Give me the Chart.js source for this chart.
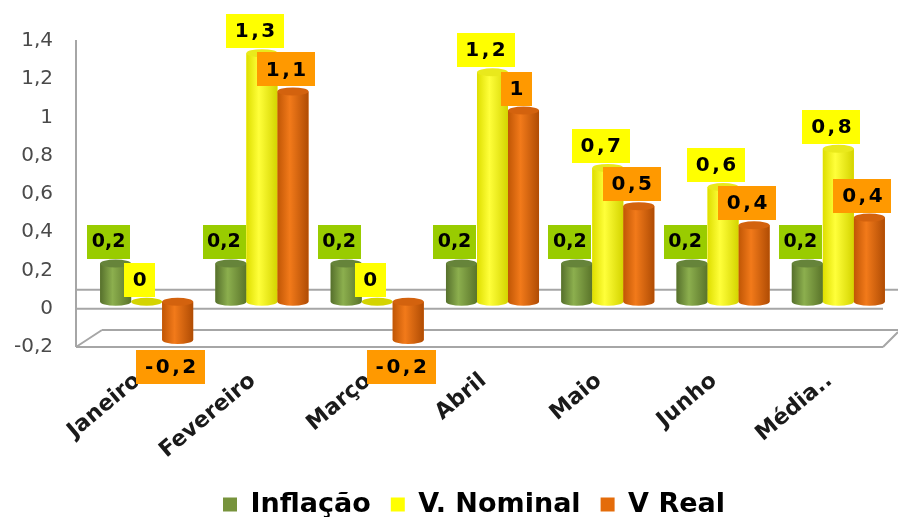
<!DOCTYPE html>
<html>
<head>
<meta charset="utf-8">
<script src="https://cdn.jsdelivr.net/npm/chart.js@4/dist/chart.umd.min.js"></script>
<style>
  html, body { margin:0; padding:0; background:#fff; }
  #wrap { width:898px; height:517px; }
</style>
</head>
<body>
<div id="wrap"><canvas id="chart" width="898" height="517"></canvas></div>
<script>
'use strict';

// data
const categories = ['Janeiro', 'Fevereiro', 'Março', 'Abril', 'Maio', 'Junho', 'Média..'];
const inflacao   = [0.2, 0.2, 0.2, 0.2, 0.2, 0.2, 0.2];
const nominal    = [0, 1.3, 0, 1.2, 0.7, 0.6, 0.8];
const real       = [-0.2, 1.1, -0.2, 1.0, 0.5, 0.4, 0.44];
const yMin = -0.2, yMax = 1.4, yStep = 0.2;

const fmt = v => Number(v.toFixed(1)).toString().replace('.', ',');

// body gradient stops (left, light, right), top cap, label box
const LOOK = [
    { body:['#56702c', '#8caf4e', '#5a742a'], cap:'#66843a', box:'#99cc00', size:19, spacing:0 },
    { body:['#dede00', '#ffff3a', '#d4d400'], cap:'#e9e91c', box:'#ffff00', size:20, spacing:2.5 },
    { body:['#c05605', '#f27a1a', '#b04c04'], cap:'#d3620e', box:'#ff9900', size:20, spacing:2.5 }
];

function cylinder(ctx, x, w, yTop, yBot, look) {
    const rx = w / 2, ry = 4;
    if (Math.abs(yBot - yTop) < 0.5) {
        ctx.fillStyle = look.body[2];
        ctx.beginPath(); ctx.ellipse(x, yTop, rx, ry, 0, 0, Math.PI * 2); ctx.fill();
        return;
    }
    const g = ctx.createLinearGradient(x - rx, 0, x + rx, 0);
    g.addColorStop(0, look.body[0]); g.addColorStop(0.4, look.body[1]); g.addColorStop(1, look.body[2]);
    ctx.fillStyle = g;
    ctx.beginPath();
    ctx.moveTo(x - rx, yTop);
    ctx.lineTo(x - rx, yBot);
    ctx.ellipse(x, yBot, rx, ry, 0, Math.PI, 0, true);
    ctx.lineTo(x + rx, yTop);
    ctx.closePath();
    ctx.fill();
    ctx.fillStyle = look.cap;
    ctx.beginPath(); ctx.ellipse(x, yTop, rx, ry, 0, 0, Math.PI * 2); ctx.fill();
}

const floor3d = {
    id:'floor3d',
    beforeDatasetsDraw(chart) {
        const { ctx, chartArea:a, scales:{ y } } = chart;
        const y0 = y.getPixelForValue(0), ym = y.getPixelForValue(yMin), yt = y.getPixelForValue(yMax);
        const xl = a.left - 13, xb = a.left + 13, xr = a.right - 13, xe = a.right + 2;
        ctx.save();
        ctx.strokeStyle = '#a6a6a6'; ctx.lineWidth = 2;
        ctx.beginPath();
        ctx.moveTo(xl, yt + 6); ctx.lineTo(xl, ym + 7);                 // value axis
        ctx.moveTo(xl, y0 - 12); ctx.lineTo(xe, y0 - 12);               // back edge at 0
        ctx.moveTo(xl, y0 + 7);  ctx.lineTo(xr, y0 + 7);                // front edge at 0
        ctx.moveTo(xb, ym - 10); ctx.lineTo(xe, ym - 10);               // back edge at min
        ctx.moveTo(xl, ym + 7);  ctx.lineTo(xr, ym + 7);                // front edge at min
        ctx.moveTo(xl, ym + 7);  ctx.lineTo(xb, ym - 10);
        ctx.moveTo(xr, ym + 7);  ctx.lineTo(xe, ym - 8);
        ctx.stroke();
        ctx.restore();
    }
};

const cylinders = {
    id:'cylinders',
    afterDatasetsDraw(chart) {
        const ctx = chart.ctx;
        ctx.save();
        chart.data.datasets.forEach((ds, i) => {
            chart.getDatasetMeta(i).data.forEach(bar => {
                const p = bar.getProps(['x', 'y', 'base', 'width'], true);
                cylinder(ctx, p.x, p.width, Math.min(p.y, p.base), Math.max(p.y, p.base), LOOK[i]);
            });
        });
        // value labels in coloured boxes
        ctx.textAlign = 'center'; ctx.textBaseline = 'middle';
        chart.data.datasets.forEach((ds, i) => {
            const look = LOOK[i];
            ctx.font = 'bold ' + look.size + 'px "DejaVu Sans"';
            ctx.letterSpacing = look.spacing + 'px';
            chart.getDatasetMeta(i).data.forEach((bar, j) => {
                const v = ds.data[j];
                const p = bar.getProps(['x', 'y'], true);
                const txt = fmt(v);
                const tw = ctx.measureText(txt).width;
                const bw = tw + (look.spacing ? 15 : 9), bh = 34;
                const cx = p.x - 7;
                const cy = v < 0 ? p.y + 27 : p.y - 22;
                ctx.fillStyle = look.box;
                ctx.fillRect(Math.round(cx - bw / 2), Math.round(cy - bh / 2), Math.round(bw), bh);
                ctx.fillStyle = '#000';
                ctx.fillText(txt, cx + look.spacing / 2, cy + 1);
            });
        });
        ctx.restore();
    }
};

// the legend in the picture sits a bit right of the canvas centre
const legendShift = {
    id:'legendShift',
    afterLayout(chart) {
        chart.legend.left += 26;
        chart.legend.right += 26;
    }
};

new Chart(document.getElementById('chart').getContext('2d'), {
    type:'bar',
    data:{
        labels:categories,
        datasets:[
            { label:'Inflação',   data:inflacao, backgroundColor:'#77933c', borderWidth:0 },
            { label:'V. Nominal', data:nominal,  backgroundColor:'#ffff00', borderWidth:0 },
            { label:'V Real',     data:real,     backgroundColor:'#e46c0a', borderWidth:0 }
        ]
    },
    options:{
        responsive:false, animation:false,
        layout:{ padding:{ top:34, right:2, left:0, bottom:-11 } },
        datasets:{ bar:{ categoryPercentage:0.807, barPercentage:1.0 } },
        plugins:{
            legend:{ position:'bottom', labels:{ boxWidth:14, boxHeight:14, color:'#000', padding:20, font:{ family:'"DejaVu Sans"', size:27, weight:'bold' } } },
            tooltip:{ enabled:false }
        },
        scales:{
            x:{
                grid:{ display:false }, border:{ display:false },
                ticks:{ color:'#1a1a1a', autoSkip:false, minRotation:40, maxRotation:40, padding:20, labelOffset:-9, font:{ family:'"DejaVu Sans"', size:22, weight:'bold' } },
                afterFit:s => { s.height = 131; }
            },
            y:{
                min:yMin, max:yMax,
                grid:{ display:true, color:'transparent', drawOnChartArea:false, drawTicks:true, tickLength:32 },
                border:{ display:false },
                ticks:{ stepSize:yStep, color:'#4a4a4a', padding:4, labelOffset:7, font:{ family:'"DejaVu Sans"', size:20 }, callback:v => fmt(v) },
                afterFit:s => { s.width = 89; }
            }
        }
    },
    plugins:[floor3d, cylinders, legendShift]
});
</script>
</body>
</html>
